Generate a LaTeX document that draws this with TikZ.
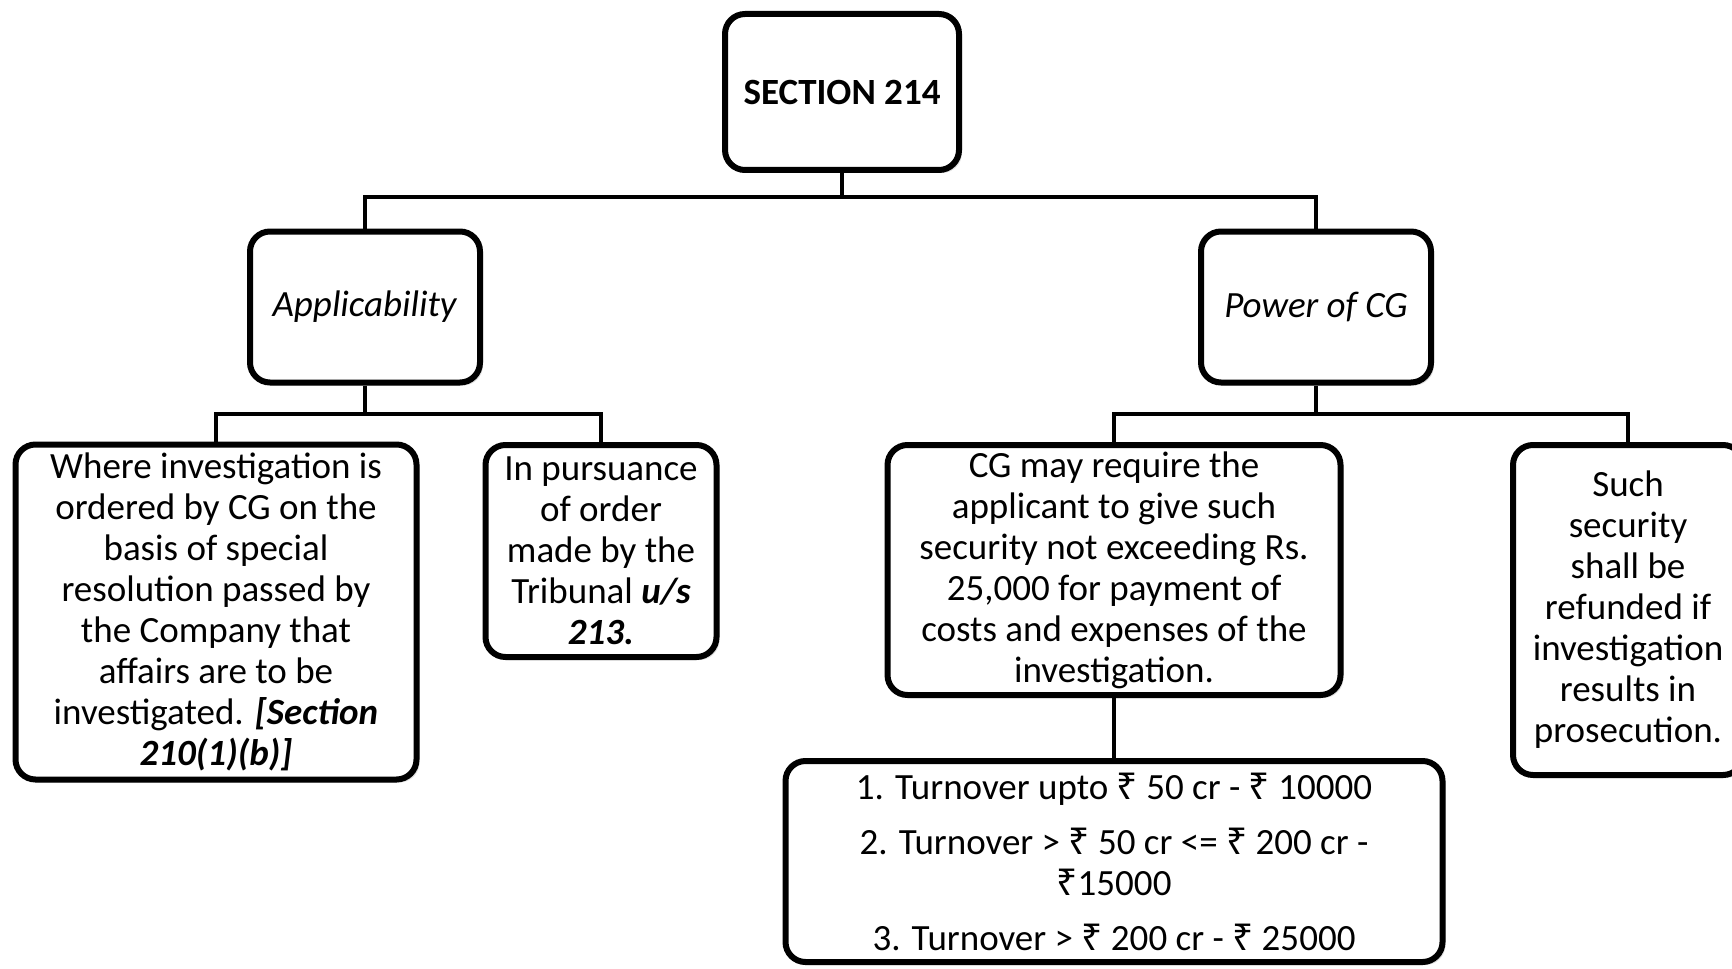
\documentclass[tikz,border=0pt]{standalone}
\usepackage{fontspec}
\setmainfont{Carlito}
\newfontfamily\rupeefont{Noto Sans}
\newcommand{\rupee}{{\rupeefont ₹}}
\usetikzlibrary{shadows}

\begin{document}
\begin{tikzpicture}[x=0.5pt,y=-0.5pt,
  box/.style={draw=black, line width=3pt, rounded corners=10pt, fill=white,
    align=center, inner sep=0pt, font=\fontsize{18.5}{20.5}\selectfont,
    drop shadow={opacity=0.25, shadow xshift=1.5pt, shadow yshift=-1.5pt}},
  link/.style={draw=black, line width=2pt}]
\useasboundingbox (0,0) rectangle (1732,968);

% boxes
\node[box, minimum width=117pt, minimum height=78pt] (top) at (842,92) {\textbf{SECTION 214}};
\node[box, minimum width=115pt, minimum height=75.5pt] (app) at (365,307) {\textit{Applicability}};
\node[box, minimum width=115pt, minimum height=75.5pt] (pow) at (1316,307) {\textit{Power of CG}};
\node[box, minimum width=200.5pt, minimum height=167.5pt] (where) at (216,612)
  {Where investigation is\\ordered by CG on the\\basis of special\\resolution passed by\\the Company that\\affairs are to be\\investigated. \textbf{\textit{[Section}}\\\textbf{\textit{210(1)(b)]}}};
\node[box, minimum width=115.5pt, minimum height=106pt] (purs) at (601,551)
  {In pursuance\\of order\\made by the\\Tribunal \textbf{\textit{u/s}}\\\textbf{\textit{213.}}};
\node[box, minimum width=226.5pt, minimum height=125pt] (cg) at (1114,570)
  {CG may require the\\applicant to give such\\security not exceeding Rs.\\25,000 for payment of\\costs and expenses of the\\investigation.};
\node[box, minimum width=115pt, minimum height=165pt] (such) at (1628,610)
  {Such\\security\\shall be\\refunded if\\investigation\\results in\\prosecution.};
\node[box, minimum width=328.5pt, minimum height=100.5pt] (amt) at (1114,861.5)
  {1. Turnover upto \rupee\ 50 cr - \rupee\ 10000\\[7pt]
   2. Turnover > \rupee\ 50 cr <= \rupee\ 200 cr -\\\rupee15000\\[7pt]
   3. Turnover > \rupee\ 200 cr - \rupee\ 25000};

% connectors
\coordinate (bus1) at (842,197);
\coordinate (busA) at (365,414);
\coordinate (busP) at (1316,414);
\draw[link] (top.south) -- (bus1) -| (app.north);
\draw[link] (bus1) -| (pow.north);
\draw[link] (app.south) -- (busA) -| (where.north);
\draw[link] (busA) -| (purs.north);
\draw[link] (pow.south) -- (busP) -| (cg.north);
\draw[link] (busP) -| (such.north);
\draw[link] (cg.south) -- (amt.north);
\end{tikzpicture}
\end{document}
